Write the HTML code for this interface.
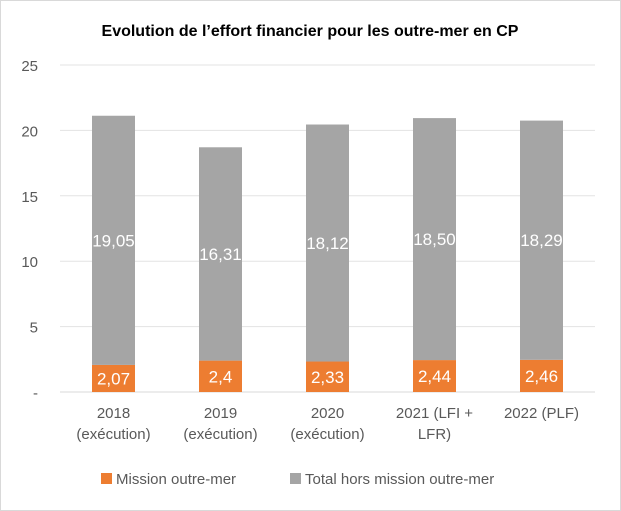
<!DOCTYPE html>
<html><head><meta charset="utf-8"><style>
body{margin:0;background:#fff}
svg{display:block;font-family:"Liberation Sans",Calibri,sans-serif}
</style></head><body>
<svg id="c" width="621" height="511">
<rect x="0.5" y="0.5" width="620" height="510" fill="#fff" stroke="#d9d9d9"/>
<text x="310" y="36" text-anchor="middle" font-size="16" font-weight="bold" fill="#000">Evolution de l’effort financier pour les outre-mer en CP</text>
<g id="grid"></g><g id="bars"></g><g id="xl"></g>
<g>
<rect x="101" y="473" width="11" height="11" fill="#ed7d31"/>
<text x="116" y="484" font-size="15" fill="#595959">Mission outre-mer</text>
<rect x="290" y="473" width="11" height="11" fill="#a5a5a5"/>
<text x="305" y="484" font-size="15" fill="#595959">Total hors mission outre-mer</text>
</g>
</svg>
<script>
const categories=[["2018","(exécution)"],["2019","(exécution)"],["2020","(exécution)"],["2021 (LFI +","LFR)"],["2022 (PLF)",""]];
const mission=[2.07,2.4,2.33,2.44,2.46];
const horsMission=[19.05,16.31,18.12,18.50,18.29];
const missionLabels=["2,07","2,4","2,33","2,44","2,46"];
const horsLabels=["19,05","16,31","18,12","18,50","18,29"];
const yTicks=[0,5,10,15,20,25];
const yTickLabels=["-","5","10","15","20","25"];
const NS="http://www.w3.org/2000/svg";
const x0=60,x1=595,y0=392,yTop=65,yMax=25;
const bw=(x1-x0)/categories.length;
const y=v=>y0-(v/yMax)*(y0-yTop);
const xc=i=>x0+bw*(i+0.5);
function mk(t,a,p,txt){const e=document.createElementNS(NS,t);for(const k in a)e.setAttribute(k,a[k]);if(txt!==undefined)e.textContent=txt;p.appendChild(e);return e;}
const G=document.getElementById('grid'),B=document.getElementById('bars'),X=document.getElementById('xl');
yTicks.forEach((t,i)=>{
 const l=mk('line',{x1:x0,x2:x1,y1:y(t),y2:y(t),stroke:t===0?'#d9d9d9':'#e3e3e3','stroke-width':1},G);
 
 
 const tx=mk('text',{x:38,y:y(t)+6,'text-anchor':'end','font-size':15,fill:'#595959'},G,yTickLabels[i]);
 
 
});
const barW=43;
categories.forEach((c,i)=>{
 const cx=xc(i);
 const r1=mk('rect',{x:cx-barW/2,y:y(mission[i]),width:barW,height:y0-y(mission[i]),fill:'#ed7d31'},B);
 
 
 const tot=mission[i]+horsMission[i];
 const r2=mk('rect',{x:cx-barW/2,y:y(tot),width:barW,height:y(mission[i])-y(tot),fill:'#a5a5a5'},B);
 
 
 const t1=mk('text',{x:cx,y:(y0+y(mission[i]))/2+6,'text-anchor':'middle','font-size':17,fill:'#fff'},B,missionLabels[i]);
 
 
 const t2=mk('text',{x:cx,y:(y(mission[i])+y(tot))/2+6,'text-anchor':'middle','font-size':17,fill:'#fff'},B,horsLabels[i]);
 
 
 c.forEach((s,j)=>{if(!s)return;
  const t=mk('text',{x:cx,y:418+j*21,'text-anchor':'middle','font-size':15,fill:'#595959'},X,s);
  
  });
});
</script>
</body></html>
